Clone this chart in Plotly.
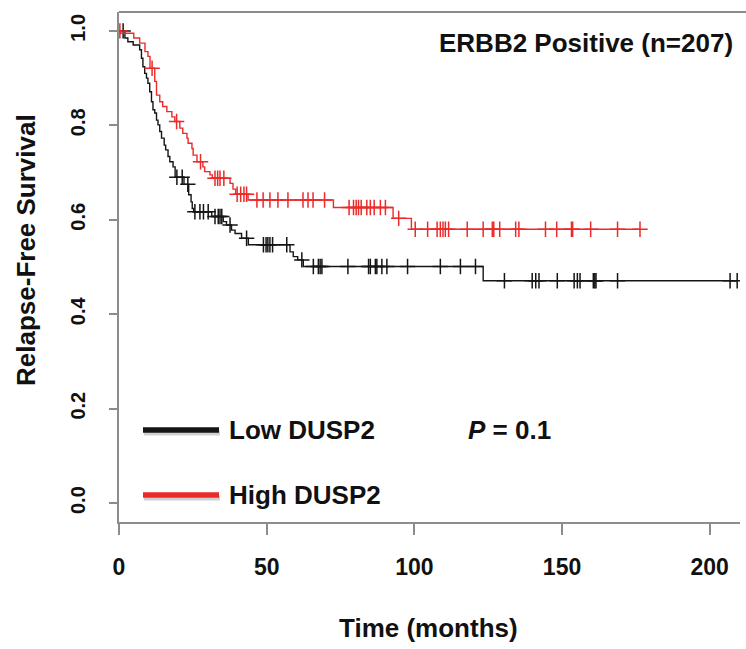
import numpy as np
import plotly.graph_objects as go

# ---------------- data ----------------
x_tick_vals = [0, 50, 100, 150, 200]
y_tick_vals = [0.0, 0.2, 0.4, 0.6, 0.8, 1.0]
y_tick_text = ["0.0", "0.2", "0.4", "0.6", "0.8", "1.0"]

series_names = ["Low DUSP2", "High DUSP2"]

# High DUSP2 (red): event times (months) and survival after each event
red_event_t = [0.5, 5.0, 7.0, 8.8, 9.8, 10.5, 12.1, 12.7, 13.8, 14.8, 16.2, 17.9,
               18.9, 20.6, 21.6, 23.0, 23.4, 24.7, 25.1, 26.4, 28.4, 29.0, 30.8,
               31.6, 37.6, 38.6, 39.5, 43.7, 72.6, 92.8, 99.0]
red_event_s = [0.995, 0.985, 0.974, 0.956, 0.946, 0.921, 0.893, 0.864, 0.850, 0.840,
               0.829, 0.818, 0.808, 0.794, 0.783, 0.773, 0.762, 0.751, 0.737, 0.723,
               0.712, 0.702, 0.695, 0.688, 0.677, 0.665, 0.654, 0.642, 0.626, 0.603,
               0.580]
red_censor_t = [0.3, 11.2, 19.5, 27.6, 32.5, 33.4, 34.2, 35.5, 40.0, 41.2, 42.3, 43.2,
                46.7, 48.8, 51.1, 53.8, 57.2, 62.3, 64.0, 65.7, 69.6, 77.9, 79.4, 80.3,
                81.1, 82.0, 83.9, 85.1, 86.4, 88.5, 90.2, 94.7, 100.3, 104.5, 107.7,
                108.8, 109.7, 110.5, 111.6, 117.9, 123.3, 126.4, 126.9, 128.9, 134.3,
                135.4, 144.4, 148.2, 153.2, 153.6, 159.7, 168.8, 176.4]

# Low DUSP2 (black)
black_event_t = [2.0, 3.0, 4.8, 7.0, 7.6, 8.1, 8.7, 9.3, 9.8, 10.4, 11.0, 11.5, 12.1,
                 12.7, 13.2, 13.8, 14.4, 15.3, 15.8, 16.6, 17.2, 18.3, 19.0, 22.0,
                 23.6, 24.4, 24.8, 25.3, 31.4, 35.3, 36.4, 38.1, 39.3, 41.5, 43.8,
                 57.9, 59.0, 60.5, 62.4, 123.3]
black_event_s = [0.985, 0.977, 0.970, 0.960, 0.942, 0.924, 0.910, 0.900, 0.889, 0.871,
                 0.850, 0.833, 0.826, 0.811, 0.801, 0.787, 0.773, 0.758, 0.748, 0.734,
                 0.723, 0.712, 0.690, 0.675, 0.653, 0.638, 0.624, 0.617, 0.607, 0.596,
                 0.589, 0.578, 0.571, 0.561, 0.547, 0.532, 0.522, 0.515, 0.501, 0.471]
black_censor_t = [1.4, 19.6, 21.4, 23.3, 25.7, 27.4, 28.6, 30.2, 32.5, 33.6, 34.2, 34.8,
                  37.6, 43.2, 48.9, 49.8, 50.4, 51.1, 52.0, 56.8, 61.9, 65.8, 67.5,
                  68.1, 68.7, 77.5, 84.5, 85.1, 86.8, 87.3, 89.0, 90.7, 97.7, 108.8,
                  115.6, 120.7, 130.5, 139.9, 141.1, 142.2, 148.4, 154.1, 155.2, 156.1,
                  160.6, 161.1, 161.5, 168.8, 206.9, 209.3]

title_text = "ERBB2 Positive (n=207)"
p_text = "<i>P</i> = 0.1"

# ---------------- styling ----------------
W, H = 746, 649
ML, MR, MT, MB = 119, 6, 12, 127
PW, PH = W - ML - MR, H - MT - MB
FONT = "Liberation Sans, Arial, Helvetica, sans-serif"
AXIS_GREY = "#8c8c8c"
BLACK = "#151515"
RED = "#ec2a2a"
X_RANGE = [0, PW / 2.9535]
Y_RANGE = [-0.04, 1.04]


def px_x(px):
    return (px - ML) / PW


def px_y(py):
    return (H - MB - py) / PH


def step_curve(ev_t, ev_s, cens_t):
    end = max(max(ev_t), max(cens_t))
    xs = [0.0] + list(ev_t) + [end]
    ys = [1.0] + list(ev_s) + [ev_s[-1]]
    et = np.array(ev_t)
    es = np.array(ev_s)
    idx = np.searchsorted(et, np.array(cens_t), side="right") - 1
    cs = np.where(idx >= 0, es[np.clip(idx, 0, None)], 1.0)
    return xs, ys, cs


fig = go.Figure()
for name, ev_t, ev_s, cens, col in [
    (series_names[0], black_event_t, black_event_s, black_censor_t, BLACK),
    (series_names[1], red_event_t, red_event_s, red_censor_t, RED),
]:
    xs, ys, cs = step_curve(ev_t, ev_s, cens)
    fig.add_trace(go.Scatter(x=xs, y=ys, mode="lines", line=dict(color=col, width=1.4, shape="hv"),
                             name=name, showlegend=False, hoverinfo="skip"))
    fig.add_trace(go.Scatter(x=cens, y=cs, mode="markers", name=name + " censored", showlegend=False,
                             marker=dict(symbol="cross-thin", size=11, color=col,
                                         line=dict(color=col, width=1.5))))

axis_common = dict(showline=True, linecolor=AXIS_GREY, linewidth=2, ticks="outside",
                   tickcolor=AXIS_GREY, tickwidth=2, showgrid=False, zeroline=False)

fig.update_xaxes(range=X_RANGE, tickvals=x_tick_vals, ticklen=11, ticklabelstandoff=12,
                 tickfont=dict(family=FONT, size=23, color="#111", weight="bold"), **axis_common)
fig.update_yaxes(range=Y_RANGE, tickvals=y_tick_vals, ticktext=y_tick_text, tickangle=-90,
                 ticklen=8, ticklabelstandoff=16,
                 tickfont=dict(family=FONT, size=20, color="#111", weight="bold"), **axis_common)

shapes = [
    # top frame line
    dict(type="line", xref="paper", yref="paper", x0=0, x1=1 + MR / PW, y0=1, y1=1,
         line=dict(color=AXIS_GREY, width=2)),
]
# legend swatches with soft shadow
for py, col in [(430, BLACK), (495, RED)]:
    shapes.append(dict(type="line", xref="paper", yref="paper", x0=px_x(144), x1=px_x(220),
                       y0=px_y(py + 3), y1=px_y(py + 3),
                       line=dict(color="rgba(0,0,0,0.18)", width=5)))
    shapes.append(dict(type="line", xref="paper", yref="paper", x0=px_x(143), x1=px_x(219),
                       y0=px_y(py), y1=px_y(py), line=dict(color=col, width=5.5)))

ann_font = dict(family=FONT, size=26, color="#111")
annotations = [
    dict(text="<b>Relapse-Free Survival</b>", textangle=-90, x=px_x(26), y=px_y(250),
         xref="paper", yref="paper", showarrow=False, xanchor="center", yanchor="middle", font=ann_font),
    dict(text="<b>Time (months)</b>", x=px_x(428), y=px_y(628), xref="paper", yref="paper",
         showarrow=False, xanchor="center", yanchor="middle", font=ann_font),
    dict(text="<b>" + title_text + "</b>", x=px_x(735), y=px_y(43), xref="paper", yref="paper",
         showarrow=False, xanchor="right", yanchor="middle", font=ann_font),
    dict(text="<b>" + series_names[0] + "</b>", x=px_x(227), y=px_y(430), xref="paper", yref="paper",
         showarrow=False, xanchor="left", yanchor="middle", font=ann_font),
    dict(text="<b>" + series_names[1] + "</b>", x=px_x(227), y=px_y(495), xref="paper", yref="paper",
         showarrow=False, xanchor="left", yanchor="middle", font=ann_font),
    dict(text="<b>" + p_text + "</b>", x=px_x(466), y=px_y(430), xref="paper", yref="paper",
         showarrow=False, xanchor="left", yanchor="middle", font=ann_font),
]

fig.update_layout(width=W, height=H, margin=dict(l=ML, r=MR, t=MT, b=MB),
                  paper_bgcolor="white", plot_bgcolor="white", showlegend=False,
                  shapes=shapes, annotations=annotations, font=dict(family=FONT))

fig.write_html("out.html", config={"displayModeBar": False},
               post_script="document.body.style.margin='0';")
